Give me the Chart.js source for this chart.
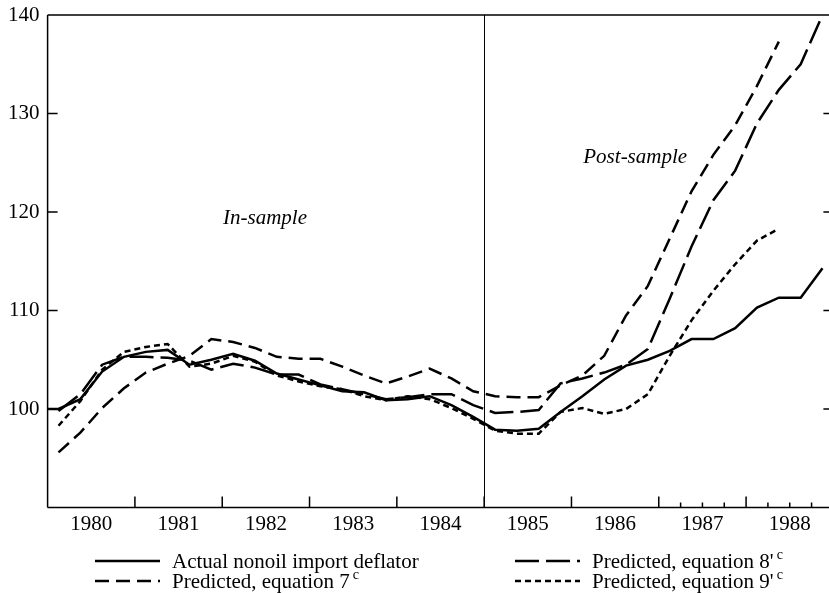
<!DOCTYPE html>
<html><head><meta charset="utf-8">
<script src="https://cdn.jsdelivr.net/npm/chart.js@4.4.1/dist/chart.umd.min.js"></script>
<style>
html,body{margin:0;padding:0;background:#fff;overflow:hidden;width:829px;height:593px}
#wrap{position:absolute;left:0;top:0;width:846px;height:593px}
</style>
</head><body><div id="wrap"><canvas id="c" width="846" height="593"></canvas></div>
<script>
const quarters = ['1979Q4',
 '1980Q1','1980Q2','1980Q3','1980Q4','1981Q1','1981Q2','1981Q3','1981Q4',
 '1982Q1','1982Q2','1982Q3','1982Q4','1983Q1','1983Q2','1983Q3','1983Q4',
 '1984Q1','1984Q2','1984Q3','1984Q4','1985Q1','1985Q2','1985Q3','1985Q4',
 '1986Q1','1986Q2','1986Q3','1986Q4','1987Q1','1987Q2','1987Q3','1987Q4',
 '1988Q1','1988Q2','1988Q3','1988Q4'];
const yearLabels = ['1980','1981','1982','1983','1984','1985','1986','1987','1988'];
const yTickValues = [100,110,120,130,140];
const minorTickValues = [1987.25,1987.5,1987.75,1988.25,1988.5,1988.75];
const sampleBreak = 1985;

const actual = [100.0,
 100.0,101.0,103.8,105.3, 105.8,106.0,104.5,105.0,
 105.6,104.9,103.6,103.0, 102.4,101.8,101.7,100.9,
 101.0,101.3,100.4,99.2, 97.9,97.8,98.0,99.7,
 101.3,103.0,104.4,105.0, 105.9,107.1,107.1,108.2,
 110.3,111.3,111.3,114.3];
const eq7 = [null,
 95.6,97.6,100.1,102.1, 103.7,104.6,105.4,107.1,
 106.8,106.2,105.3,105.1, 105.1,104.3,103.4,102.6,
 103.3,104.1,103.1,101.8, 101.3,101.2,101.2,102.4,
 103.4,105.4,109.5,112.5, 117.3,122.1,125.8,128.8,
 132.8,137.3,null,null];
const eq8 = [null,
 99.8,101.5,104.5,105.3, 105.3,105.2,104.9,104.0,
 104.6,104.2,103.5,103.5, 102.5,102.0,101.5,101.0,
 101.2,101.5,101.5,100.4, 99.6,99.7,99.9,102.6,
 103.1,103.7,104.5,106.1, 111.2,116.5,121.2,124.2,
 129.0,132.4,135.0,140.0];
const eq9 = [null,
 98.3,100.8,104.0,105.8, 106.3,106.6,104.3,104.6,
 105.4,104.8,103.4,102.8, 102.3,102.0,101.3,100.9,
 101.3,101.0,100.1,99.0, 97.8,97.5,97.5,99.7,
 100.1,99.5,100.0,101.5, 105.4,109.0,112.0,114.7,
 117.1,118.3,null,null];

const notes = [
  {text:'In-sample', x:1982.49, y:119.35},
  {text:'Post-sample', x:1986.73, y:125.55}
];

const qx = q => parseInt(q.slice(0,4)) + (parseInt(q.slice(5)) - 0.5) / 4;
const pts = arr => quarters.map((q,i) => ({x: qx(q), y: arr[i]}));

const FONT = "'Liberation Serif','Times New Roman',serif";
const FS = 21;

const datasets = [
  {label:'Actual nonoil import deflator', sup:'', data:pts(actual), borderDash:[], legendPos:[0,0]},
  {label:'Predicted, equation 7', sup:'c', data:pts(eq7), borderDash:[14,7], legendPos:[0,1]},
  {label:"Predicted, equation 8'", sup:'c', data:pts(eq8), borderDash:[24,7], legendPos:[1,0]},
  {label:"Predicted, equation 9'", sup:'c', data:pts(eq9), borderDash:[6,4], legendPos:[1,1]}
].map(d => Object.assign(d, {borderColor:'#000', backgroundColor:'#000', borderWidth:2.5,
  pointRadius:0, tension:0, fill:false, spanGaps:false}));

const deco = {
  id:'deco',
  afterDatasetsDraw(chart){
    const ctx = chart.ctx;
    const {left,right,top,bottom} = chart.chartArea;
    const xs = chart.scales.x, ys = chart.scales.y;
    ctx.save();
    ctx.strokeStyle = '#000';
    ctx.setLineDash([]);
    ctx.lineWidth = 1.5;
    ctx.beginPath();
    ctx.moveTo(left, top); ctx.lineTo(right, top);
    ctx.moveTo(left, top); ctx.lineTo(left, bottom);
    ctx.moveTo(left, bottom); ctx.lineTo(right, bottom);
    ctx.moveTo(right, top); ctx.lineTo(right, bottom);
    yearLabels.slice(1).forEach(y => {
      const px = xs.getPixelForValue(+y);
      ctx.moveTo(px, bottom); ctx.lineTo(px, bottom - 11);
    });
    minorTickValues.forEach(v => {
      const px = xs.getPixelForValue(v);
      ctx.moveTo(px, bottom); ctx.lineTo(px, bottom - 5);
    });
    yTickValues.forEach(v => {
      const py = ys.getPixelForValue(v);
      ctx.moveTo(left, py); ctx.lineTo(left + 10, py);
      ctx.moveTo(right, py); ctx.lineTo(right - 10, py);
    });
    ctx.stroke();
    ctx.lineWidth = 1;
    ctx.beginPath();
    const bx = Math.round(xs.getPixelForValue(sampleBreak)) + 0.5;
    ctx.moveTo(bx, top); ctx.lineTo(bx, bottom);
    ctx.stroke();
    ctx.fillStyle = '#000';
    ctx.font = "italic " + FS + "px " + FONT;
    ctx.textAlign = 'center';
    ctx.textBaseline = 'middle';
    notes.forEach(n => ctx.fillText(n.text, xs.getPixelForValue(n.x), ys.getPixelForValue(n.y)));
    const colX = [95, 515], rowY = [561, 581], sampleLen = 65, textGap = 77;
    chart.data.datasets.forEach(d => {
      const sx = colX[d.legendPos[0]], sy = rowY[d.legendPos[1]];
      ctx.lineWidth = 2.5;
      ctx.setLineDash(d.borderDash);
      ctx.beginPath();
      ctx.moveTo(sx, sy); ctx.lineTo(sx + sampleLen, sy);
      ctx.stroke();
      ctx.setLineDash([]);
      ctx.font = FS + "px " + FONT;
      ctx.textAlign = 'left';
      ctx.textBaseline = 'middle';
      const tx = sx + textGap;
      ctx.fillText(d.label, tx, sy + 1);
      if (d.sup) {
        const w = ctx.measureText(d.label).width;
        ctx.font = "14px " + FONT;
        ctx.fillText(d.sup, tx + w + 3, sy - 6);
      }
    });
    ctx.restore();
  }
};

new Chart(document.getElementById('c'), {
  type:'line',
  data:{datasets},
  options:{
    responsive:false,
    animation:false,
    layout:{padding:{top:15, right:12.6, left:0, bottom:0}},
    plugins:{legend:{display:false}, tooltip:{enabled:false}},
    scales:{
      x:{
        type:'linear', min:1980, max:1989,
        afterBuildTicks: s => { s.ticks = yearLabels.map(y => ({value: +y + 0.5})); },
        afterFit: s => { s.height = 85.5; s.paddingLeft = 0; s.paddingRight = 0; },
        ticks:{autoSkip:false, maxRotation:0, padding:4, color:'#000',
          font:{family:FONT, size:FS},
          callback:(v, i) => yearLabels[i]},
        grid:{display:false, drawTicks:false},
        border:{display:false}
      },
      y:{
        type:'linear', min:90, max:140,
        afterBuildTicks: s => { s.ticks = yTickValues.map(v => ({value:v})); },
        afterFit: s => { s.width = 47.6; s.paddingTop = 0; s.paddingBottom = 0; },
        ticks:{padding:8, color:'#000', font:{family:FONT, size:FS},
          callback: v => String(v)},
        grid:{display:false, drawTicks:false},
        border:{display:false}
      }
    }
  },
  plugins:[deco]
});
</script>
</body></html>
